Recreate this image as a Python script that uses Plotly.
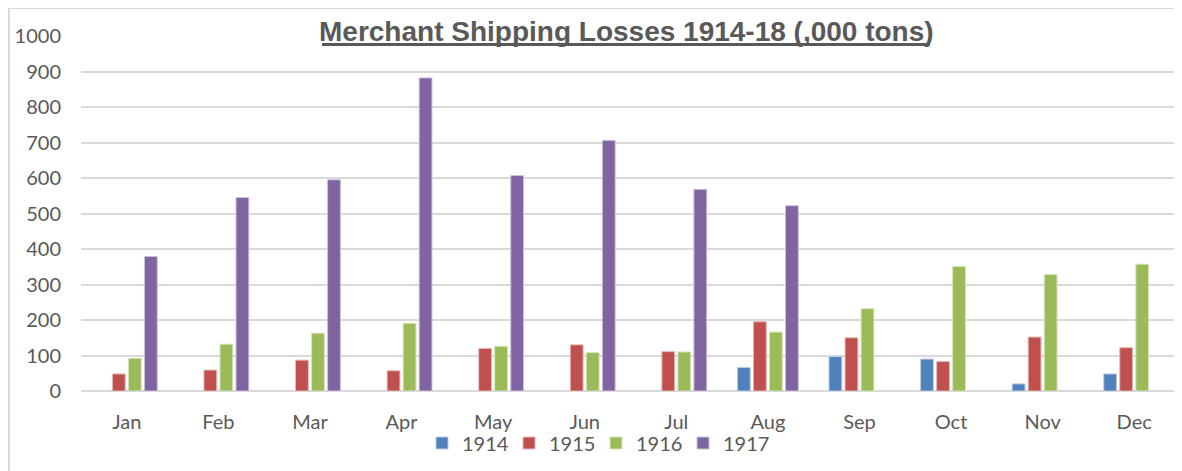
import plotly.graph_objects as go

months = ["Jan", "Feb", "Mar", "Apr", "May", "Jun", "Jul", "Aug", "Sep", "Oct", "Nov", "Dec"]
y1914 = [None, None, None, None, None, None, None, 66, 97, 90, 20, 48]
y1915 = [48, 59, 87, 57, 120, 130, 111, 195, 150, 83, 152, 122]
y1916 = [92, 132, 163, 191, 126, 108, 110, 166, 232, 351, 328, 357]
y1917 = [379, 545, 595, 882, 607, 706, 568, 522, None, None, None, None]
series_names = ["1914", "1915", "1916", "1917"]
series_colors = ["#4F81BD", "#C0504D", "#9BBB59", "#8064A2"]
edge_colors = ["#B9CDE5", "#E6B9B8", "#D7E4BD", "#CCC1DA"]
title_text = "Merchant Shipping Losses 1914-18 (,000 tons)"

W, H = 1174, 463
L, R, T, B = 73, 2, 28, 80
PW, PH = W - L - R, H - T - B


def px(x):
    return (x - L) / PW


def py(y):
    return (H - B - y) / PH


legend_ids = ["legend", "legend2", "legend3", "legend4"]
legend_left = [414, 501, 588, 675]

fig = go.Figure()
for i, (name, vals, col, ecol) in enumerate(zip(series_names, [y1914, y1915, y1916, y1917], series_colors, edge_colors)):
    fig.add_trace(go.Bar(
        x=months, y=vals, name=name, legend=legend_ids[i],
        marker=dict(color=col, line=dict(color=ecol, width=1)),
    ))

txt_font = dict(family="Lato, 'Open Sans', sans-serif", size=20, color="#595959")

legend_cfg = {}
for lid, lx in zip(legend_ids, legend_left):
    legend_cfg[lid] = dict(orientation="h", x=px(lx), xanchor="left", y=py(435), yanchor="middle",
                           font=txt_font, bgcolor="rgba(0,0,0,0)", itemwidth=30)

fig.update_layout(
    width=W, height=H,
    margin=dict(l=L, r=R, t=T, b=B),
    paper_bgcolor="white", plot_bgcolor="white",
    barmode="group", bargap=0.30, bargroupgap=0.2,
    font=txt_font,
    showlegend=True,
    xaxis=dict(showgrid=False, showline=False, zeroline=False, ticks="",
               tickfont=txt_font, ticklabelstandoff=17, fixedrange=True),
    yaxis=dict(range=[0, 1000], dtick=100, tick0=0, showgrid=True, gridcolor="#D9D9D9",
               gridwidth=1.5, zeroline=True, zerolinecolor="#D9D9D9", zerolinewidth=1.5,
               showline=False, ticks="", tickfont=txt_font, ticklabelstandoff=19,
               fixedrange=True),
    annotations=[dict(
        text="<b>" + title_text + "</b>",
        xref="paper", yref="paper", x=px(618), y=py(23), xanchor="center", yanchor="middle",
        showarrow=False,
        font=dict(family="Liberation Sans, Arial, sans-serif", size=28, color="#595959"),
    )],
    shapes=[
        dict(type="line", xref="paper", yref="paper", x0=px(1), x1=px(1), y0=py(0), y1=py(H),
             line=dict(color="#D9D9D9", width=2)),
        dict(type="line", xref="paper", yref="paper", x0=px(0), x1=px(W - 2), y0=py(0), y1=py(0),
             line=dict(color="#D9D9D9", width=2)),
        dict(type="line", xref="paper", yref="paper", x0=px(314), x1=px(922), y0=py(36.5), y1=py(36.5),
             line=dict(color="#595959", width=3)),
    ],
    **legend_cfg,
)

fig.write_html("out.html")
